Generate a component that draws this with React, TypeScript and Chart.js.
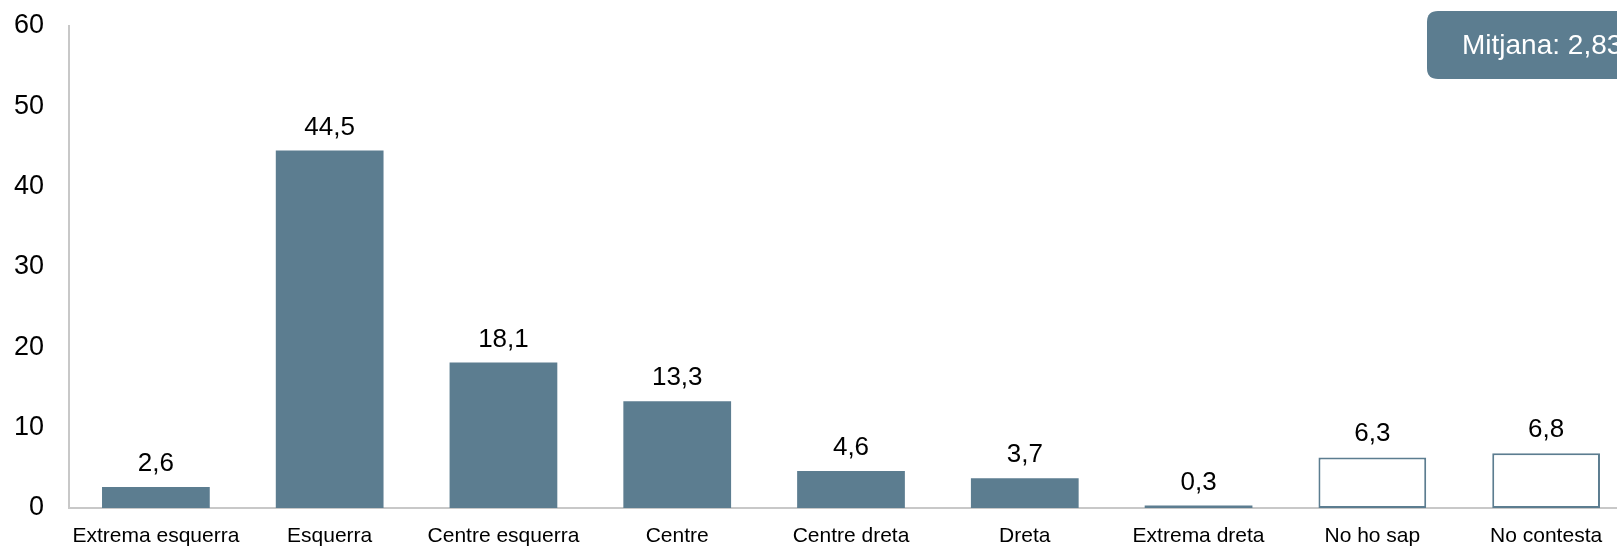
import React, { useEffect, useRef } from "react";
import { Chart, registerables } from "chart.js";

Chart.register(...registerables);

const categories = [
  "Extrema esquerra",
  "Esquerra",
  "Centre esquerra",
  "Centre",
  "Centre dreta",
  "Dreta",
  "Extrema dreta",
  "No ho sap",
  "No contesta",
];
const values = [2.6, 44.5, 18.1, 13.3, 4.6, 3.7, 0.3, 6.3, 6.8];
const hollow = [false, false, false, false, false, false, false, true, true];
const yTicks = [0, 10, 20, 30, 40, 50, 60];
const badgeText = "Mitjana: 2,83";

const BAR = "#5c7d90";
const FONT = "'Liberation Sans', Arial, sans-serif";

export default function App() {
  const ref = useRef<HTMLCanvasElement | null>(null);

  useEffect(() => {
    const canvas = ref.current;
    if (!canvas) return;

    const labelPlugin = {
      id: "valueLabels",
      afterDatasetsDraw(chart: any) {
        const ctx = chart.ctx;
        const meta = chart.getDatasetMeta(0);
        ctx.save();
        ctx.font = `26px ${FONT}`;
        ctx.fillStyle = "#000";
        ctx.textAlign = "center";
        ctx.textBaseline = "alphabetic";
        meta.data.forEach((el: any, i: number) => {
          const txt = values[i].toFixed(1).replace(".", ",");
          ctx.fillText(txt, el.x, el.y - 16);
        });
        ctx.restore();
      },
    };

    const badgePlugin = {
      id: "badge",
      afterDraw(chart: any) {
        const ctx = chart.ctx;
        ctx.save();
        const x = 1427, y = 11, w = 240, h = 68, r = 11;
        ctx.fillStyle = BAR;
        ctx.beginPath();
        ctx.moveTo(x + r, y);
        ctx.lineTo(x + w - r, y);
        ctx.quadraticCurveTo(x + w, y, x + w, y + r);
        ctx.lineTo(x + w, y + h - r);
        ctx.quadraticCurveTo(x + w, y + h, x + w - r, y + h);
        ctx.lineTo(x + r, y + h);
        ctx.quadraticCurveTo(x, y + h, x, y + h - r);
        ctx.lineTo(x, y + r);
        ctx.quadraticCurveTo(x, y, x + r, y);
        ctx.closePath();
        ctx.fill();
        ctx.fillStyle = "#ffffff";
        ctx.font = `28px ${FONT}`;
        ctx.textAlign = "left";
        ctx.textBaseline = "middle";
        ctx.fillText(badgeText, 1462, y + h / 2 + 1);
        ctx.restore();
      },
    };

    const chart = new Chart(canvas, {
      type: "bar",
      data: {
        labels: categories,
        datasets: [
          {
            data: values,
            backgroundColor: hollow.map((h) => (h ? "#ffffff" : BAR)),
            borderColor: BAR,
            borderWidth: hollow.map((h) => (h ? 2 : 0)),
            borderSkipped: false,
            barPercentage: 0.62,
            categoryPercentage: 1,
          },
        ],
      },
      options: {
        responsive: false,
        animation: false,
        maintainAspectRatio: false,
        layout: { padding: { top: 26, right: 27, left: 0, bottom: 0 } },
        plugins: {
          legend: { display: false },
          tooltip: { enabled: false },
        },
        scales: {
          x: {
            offset: true,
            grid: { display: false, drawTicks: false },
            border: { display: true, color: "#c8c8c8", width: 2 },
            ticks: {
              color: "#000",
              font: { family: FONT, size: 21 },
              padding: 16,
              maxRotation: 0,
              autoSkip: false,
            },
            afterFit(scale: any) {
              scale.height = 38;
              scale.paddingLeft = 0;
              scale.paddingRight = 0;
            },
          },
          y: {
            min: 0,
            max: 60,
            afterBuildTicks(scale: any) {
              scale.ticks = yTicks.map((v) => ({ value: v }));
            },
            grid: { display: false, drawTicks: false },
            border: { display: true, color: "#c8c8c8", width: 2 },
            ticks: {
              color: "#000",
              font: { family: FONT, size: 27 },
              padding: 25,
            },
            afterFit(scale: any) {
              scale.width = 69;
              scale.paddingTop = 0;
              scale.paddingBottom = 0;
            },
          },
        },
      },
      plugins: [labelPlugin, badgePlugin],
    });

    return () => chart.destroy();
  }, []);

  return (
    <div
      style={{
        position: "fixed",
        left: 0,
        top: 0,
        width: 1617,
        height: 546,
        overflow: "hidden",
        background: "#fff",
      }}
    >
      <canvas ref={ref} width={1660} height={546} style={{ width: 1660, height: 546, display: "block" }} />
    </div>
  );
}
